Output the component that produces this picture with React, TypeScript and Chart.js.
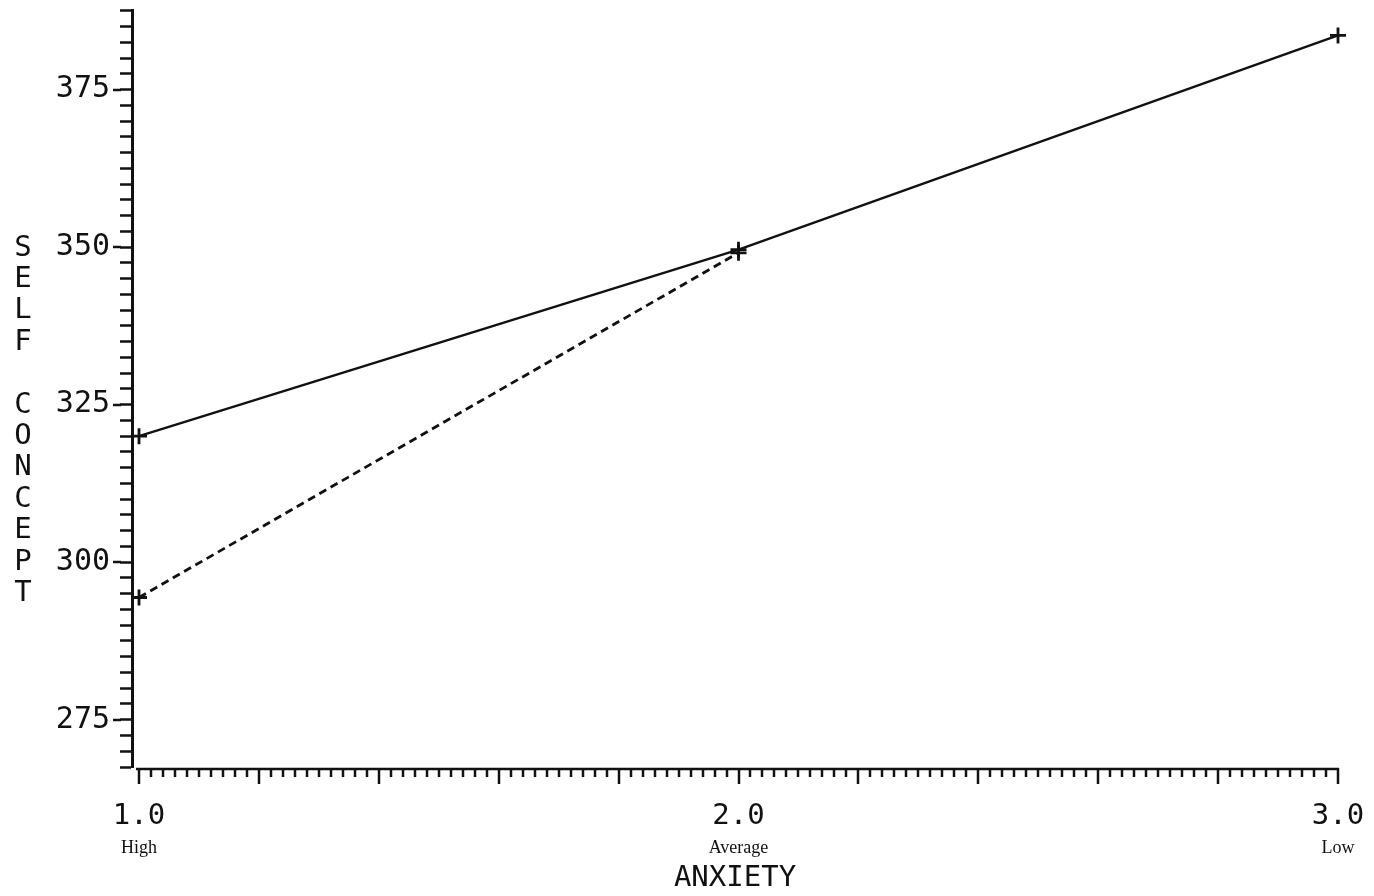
import React, { useEffect, useRef } from "react";
import { Chart, registerables } from "chart.js";

Chart.register(...registerables);

// ---- data ----
const xValues: number[] = [1.0, 2.0, 3.0];
const solidSeries: number[] = [320, 349.6, 383.6];
const dashedSeries: number[] = [294.4, 349.1];
const xTickLabels: string[] = ["1.0", "2.0", "3.0"];
const xLevelNames: string[] = ["High", "Average", "Low"];
const yLabelValues: number[] = [275, 300, 325, 350, 375];
const yMin = 267.5;
const yMax = 387.5;
const yMinorStep = 2.5;
const xMin = 0.9883;
const xMax = 3.0;
const xFirst = 1.0;
const xMinorStep = 0.02;
const xMinorPerMedium = 10;
const yTitle = "SELF CONCEPT";
const xTitle = "ANXIETY";

const yTickValues: number[] = [];
for (let i = 0; yMin + i * yMinorStep <= yMax + 1e-9; i++) {
  yTickValues.push(yMin + i * yMinorStep);
}

const INK = "#111111";
const MONO = "'DejaVu Sans Mono', monospace";
const SERIF = "'Liberation Serif', 'DejaVu Serif', serif";

const plotterAxes = {
  id: "plotterAxes",
  afterDraw(chart: any) {
    const ctx: CanvasRenderingContext2D = chart.ctx;
    const xs = chart.scales.x;
    const ys = chart.scales.y;
    const area = chart.chartArea;
    const line = (x1: number, y1: number, x2: number, y2: number) => {
      ctx.beginPath();
      ctx.moveTo(x1, y1);
      ctx.lineTo(x2, y2);
      ctx.stroke();
    };
    ctx.save();
    ctx.strokeStyle = INK;
    ctx.lineWidth = 2.5;
    ctx.lineCap = "butt";
    // longer major ticks on y
    yLabelValues.forEach((v) => {
      const py = Math.round(ys.getPixelForValue(v));
      line(area.left - 19, py, area.left - 11, py);
    });
    // x axis baseline and ticks
    const y0 = Math.round(area.bottom) + 2;
    line(xs.getPixelForValue(xFirst - 0.005), y0, xs.getPixelForValue(xMax) + 1, y0);
    const n = Math.round((xMax - xFirst) / xMinorStep);
    for (let i = 0; i <= n; i++) {
      const v = xFirst + i * xMinorStep;
      const px = Math.round(xs.getPixelForValue(v));
      const medium = i % xMinorPerMedium === 0;
      line(px, y0 - 1, px, y0 + (medium ? 15 : 8));
    }
    // stacked y title
    ctx.fillStyle = INK;
    ctx.font = `29px ${MONO}`;
    ctx.textAlign = "center";
    ctx.textBaseline = "middle";
    Array.from(yTitle).forEach((ch, i) => {
      ctx.fillText(ch, 23, 248 + i * 31.4);
    });
    ctx.restore();
  },
};

export default function App() {
  const canvasRef = useRef<HTMLCanvasElement | null>(null);

  useEffect(() => {
    document.body.style.margin = "0";
    const canvas = canvasRef.current;
    if (!canvas) return;
    const chart = new Chart(canvas, {
      type: "line",
      data: {
        datasets: [
          {
            label: "solid",
            data: xValues.map((x, i) => ({ x, y: solidSeries[i] })),
            borderColor: INK,
            backgroundColor: INK,
            borderWidth: 2.4,
            pointStyle: "cross",
            pointRadius: 8,
            pointBorderWidth: 2.8,
            fill: false,
            tension: 0,
            clip: false as any,
          },
          {
            label: "dashed",
            data: dashedSeries.map((y, i) => ({ x: xValues[i], y })),
            borderColor: INK,
            backgroundColor: INK,
            borderWidth: 2.8,
            borderDash: [8, 5],
            pointStyle: "cross",
            pointRadius: 8,
            pointBorderWidth: 2.8,
            fill: false,
            tension: 0,
            clip: false as any,
          },
        ],
      },
      options: {
        animation: false,
        responsive: false,
        devicePixelRatio: 1,
        layout: { padding: { left: 0, right: 36, top: 9, bottom: 0 } },
        plugins: { legend: { display: false }, tooltip: { enabled: false } },
        scales: {
          x: {
            type: "linear",
            position: "bottom",
            weight: 0,
            min: xMin,
            max: xMax,
            afterBuildTicks: (s: any) => {
              s.ticks = xValues.map((v) => ({ value: v }));
            },
            afterFit: (s: any) => {
              s.height = 65;
              s.paddingLeft = 0;
              s.paddingRight = 0;
            },
            ticks: {
              autoSkip: false,
              maxRotation: 0,
              padding: 32,
              color: INK,
              font: { family: MONO, size: 29 },
              callback: (_v: any, i: number) => xTickLabels[i] ?? "",
            },
            grid: { display: false, drawTicks: false },
            border: { display: false },
          },
          xSub: {
            type: "linear",
            position: "bottom",
            weight: 1,
            min: xMin,
            max: xMax,
            afterBuildTicks: (s: any) => {
              s.ticks = xValues.map((v) => ({ value: v }));
            },
            afterFit: (s: any) => {
              s.height = 64;
              s.paddingLeft = 0;
              s.paddingRight = 0;
            },
            ticks: {
              autoSkip: false,
              maxRotation: 0,
              padding: 5,
              color: INK,
              font: { family: SERIF, size: 18 },
              callback: (_v: any, i: number) => xLevelNames[i] ?? "",
            },
            grid: { display: false, drawTicks: false },
            border: { display: false },
            title: {
              display: true,
              text: xTitle,
              color: INK,
              font: { family: MONO, size: 29 },
              padding: { top: 0, bottom: 0 },
            },
          },
          y: {
            type: "linear",
            position: "left",
            min: yMin,
            max: yMax,
            afterBuildTicks: (s: any) => {
              s.ticks = yTickValues.map((v) => ({ value: v }));
            },
            afterFit: (s: any) => {
              s.width = 132;
              s.paddingTop = 0;
              s.paddingBottom = 0;
            },
            ticks: {
              autoSkip: false,
              padding: 10,
              color: INK,
              font: { family: MONO, size: 30 },
              callback: (v: any) =>
                yLabelValues.some((m) => Math.abs(m - Number(v)) < 1e-6) ? String(Math.round(Number(v))) : "",
            },
            grid: {
              display: true,
              drawOnChartArea: false,
              drawTicks: true,
              tickLength: 12,
              tickWidth: 2.5,
              tickColor: INK,
              color: INK,
            },
            border: { display: true, color: INK, width: 3 },
          },
        },
      },
      plugins: [plotterAxes],
    });
    return () => chart.destroy();
  }, []);

  return (
    <div style={{ width: 1374, height: 896, background: "#fff" }}>
      <canvas ref={canvasRef} width={1374} height={896} style={{ display: "block" }} />
    </div>
  );
}
